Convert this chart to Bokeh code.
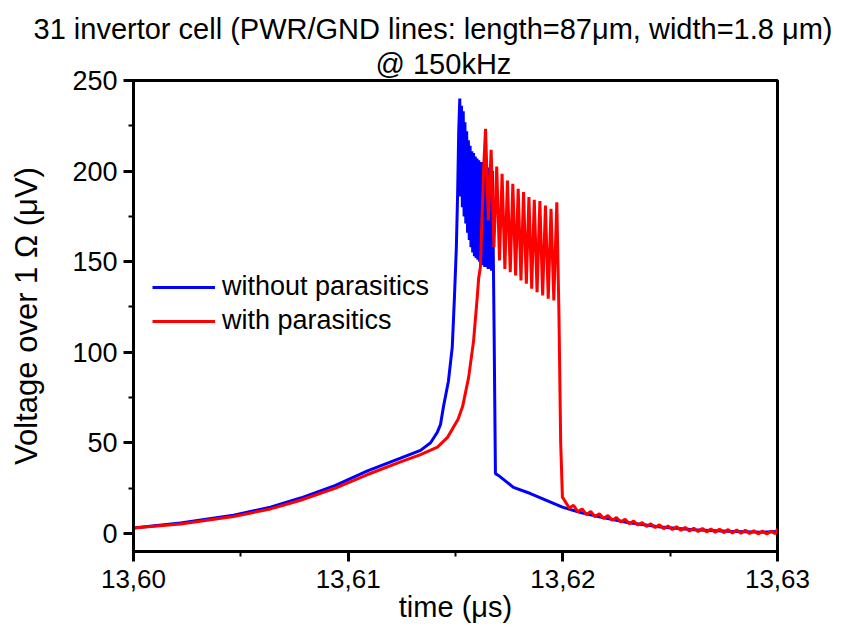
from bokeh.plotting import figure
from bokeh.models import FixedTicker, Title, Range1d
from bokeh.embed import file_html
from bokeh.resources import INLINE

FONT = "Liberation Sans"

# ---- data ----
x_ticks = [13.60, 13.61, 13.62, 13.63]
x_tick_labels = ["13,60", "13,61", "13,62", "13,63"]
x_minor = [13.605, 13.615, 13.625]
y_ticks = [0, 50, 100, 150, 200, 250]
y_minor = [25, 75, 125, 175, 225]

blue_t = [
    13.60000, 13.60219, 13.60466, 13.60638, 13.60778, 13.60941, 13.61090, 13.61244,
    13.61337, 13.61384, 13.61416, 13.61430, 13.61444, 13.61467, 13.61485, 13.61495,
    13.61504, 13.61510, 13.61515, 13.61520,
    13.61524, 13.61528, 13.61532, 13.61536, 13.61540, 13.61544, 13.61548, 13.61552,
    13.61556, 13.61560, 13.61564, 13.61568, 13.61572, 13.61576, 13.61580, 13.61584,
    13.61588, 13.61592, 13.61596, 13.61600, 13.61604, 13.61608, 13.61612, 13.61616,
    13.61620, 13.61624, 13.61628, 13.61632, 13.61636, 13.61640, 13.61644, 13.61648,
    13.61652, 13.61656, 13.61660, 13.61664, 13.61668, 13.61672,
    13.61680, 13.61686, 13.61700, 13.61770, 13.61849, 13.61929, 13.61998, 13.62082,
    13.62175, 13.62301, 13.62455, 13.62609, 13.62767, 13.62921, 13.63000,
]
blue_v = [
    3.0, 5.7, 10.0, 14.5, 19.5, 26.5, 34.5, 41.5,
    45.8, 50.0, 56.0, 60.0, 70.0, 84.0, 103.0, 130.0,
    158.0, 188.0, 222.0, 240.0,
    186, 236, 180, 233, 175, 227, 171, 222,
    166, 217, 162, 214, 158, 211, 155, 210,
    153, 208, 152, 207, 151, 206, 150, 205,
    149, 205, 148, 204, 147, 203, 147, 202,
    146, 202, 146, 201, 145, 200,
    110.0, 33.0, 32.0, 25.4, 22.0, 18.0, 14.5, 11.5,
    9.0, 6.0, 3.5, 2.0, 1.2, 0.6, 1.0,
]

red_t = [
    13.60000, 13.60219, 13.60466, 13.60638, 13.60778, 13.60941, 13.61090, 13.61244,
    13.61337, 13.61416, 13.61463, 13.61512, 13.61533, 13.61561, 13.61584, 13.61601,
    13.61608, 13.61616, 13.61624, 13.61632,
    13.61640, 13.61653, 13.61666, 13.61679, 13.61692, 13.61705, 13.61717, 13.61730,
    13.61742, 13.61755, 13.61767, 13.61780, 13.61792, 13.61805, 13.61817, 13.61830,
    13.61842, 13.61855, 13.61867, 13.61880, 13.61893, 13.61906, 13.61919, 13.61932,
    13.61945, 13.61958, 13.61972,
    13.61982, 13.61990, 13.61998,
    13.62010, 13.62030, 13.62050, 13.62070, 13.62090, 13.62110, 13.62130, 13.62150,
    13.62170, 13.62190, 13.62210, 13.62230, 13.62250, 13.62270, 13.62290, 13.62310,
    13.62330, 13.62350, 13.62370, 13.62390, 13.62410, 13.62430, 13.62450, 13.62470,
    13.62490, 13.62510, 13.62530, 13.62550, 13.62570, 13.62590, 13.62610, 13.62630,
    13.62650, 13.62670, 13.62690, 13.62710, 13.62730, 13.62750, 13.62770, 13.62790,
    13.62810, 13.62830, 13.62850, 13.62870, 13.62890, 13.62910, 13.62930, 13.62950,
    13.62970, 13.62990, 13.63000,
]
red_v = [
    3.0, 5.2, 9.3, 13.5, 18.3, 25.0, 32.5, 39.5,
    43.5, 47.6, 53.0, 63.0, 70.0, 86.0, 106.0, 130.0,
    141.0, 147.0, 176.0, 204.0,
    223.3, 172.7, 211.7, 158.0, 202.5, 150.7, 198.5, 146.0,
    194.8, 144.2, 193.0, 142.4, 190.2, 139.6, 188.4, 137.8,
    185.6, 135.0, 184.2, 133.2, 183.4, 131.3, 181.0, 129.5,
    179.2, 128.6, 182.8,
    120.0, 50.0, 20.0,
    17.8, 14.0, 15.5, 12.0, 13.5, 10.3, 12.1, 9.2,
    10.9, 8.2, 9.9, 7.3, 8.8, 6.3, 7.8, 5.4,
    6.8, 4.6, 6.0, 3.8, 5.3, 3.2, 4.7, 2.6,
    4.1, 2.1, 3.7, 1.7, 3.3, 1.3, 2.9, 1.0,
    2.7, 0.8, 2.5, 0.6, 2.3, 0.4, 2.1, 0.2,
    1.9, 0.0, 1.7, -0.1, 1.5, -0.3, 1.3, -0.4,
    1.2, -0.2, 2.5,
]

p = figure(
    width=839, height=625, output_backend="svg", toolbar_location=None,
    x_range=Range1d(13.60, 13.63), y_range=Range1d(-10, 250),
    min_border_left=133, min_border_right=62, min_border_top=80, min_border_bottom=73,
    title=None,
)
p.background_fill_color = "white"
p.border_fill_color = "white"
p.outline_line_color = "black"
p.outline_line_width = 3
p.outline_line_alpha = 1.0
p.xgrid.visible = False
p.ygrid.visible = False

p.add_layout(Title(text="@ 150kHz", align="left", offset=242, standoff=2, text_font=FONT,
                   text_font_size="29px", text_font_style="normal", text_color="black"), "above")
p.add_layout(Title(text="31 invertor cell (PWR/GND lines: length=87μm, width=1.8 μm)",
                   align="left", offset=-100, standoff=0, text_font=FONT, text_font_size="29px",
                   text_font_style="normal", text_color="black"), "above")

p.line(blue_t, blue_v, line_color="#0000FF", line_width=3, legend_label="without parasitics")
p.line(red_t, red_v, line_color="#FF0000", line_width=3, legend_label="with parasitics")

for ax in (p.xaxis[0], p.yaxis[0]):
    ax.axis_line_width = 3
    ax.axis_line_color = "black"
    ax.major_tick_line_width = 3
    ax.minor_tick_line_width = 2
    ax.major_tick_in = 0
    ax.major_tick_out = 10
    ax.minor_tick_in = 0
    ax.minor_tick_out = 5
    ax.major_label_text_font = FONT
    ax.major_label_text_color = "black"
    ax.axis_label_text_font = FONT
    ax.axis_label_text_font_style = "normal"
    ax.axis_label_text_color = "black"

p.xaxis.ticker = FixedTicker(ticks=x_ticks, minor_ticks=x_minor)
p.xaxis.major_label_overrides = dict(zip(x_ticks, x_tick_labels))
p.xaxis.axis_label = "time (μs)"
p.xaxis.major_label_text_font_size = "26px"
p.xaxis.axis_label_text_font_size = "29px"
p.xaxis.major_label_standoff = 8
p.xaxis.axis_label_standoff = 0

p.yaxis.ticker = FixedTicker(ticks=y_ticks, minor_ticks=y_minor)
p.yaxis.axis_label = "Voltage over 1 Ω (μV)"
p.yaxis.major_label_text_font_size = "27px"
p.yaxis.axis_label_text_font_size = "31px"
p.yaxis.major_label_standoff = 6
p.yaxis.axis_label_standoff = 25

lg = p.legend[0]
lg.location = (19, 215)
lg.border_line_color = None
lg.background_fill_alpha = 0
lg.label_text_font = FONT
lg.label_text_font_size = "27px"
lg.label_text_color = "black"
lg.glyph_width = 63
lg.glyph_height = 20
lg.label_standoff = 7
lg.label_height = 27
lg.padding = 0
lg.margin = 0
lg.spacing = 3

open("out.html", "w").write(file_html(p, INLINE))
